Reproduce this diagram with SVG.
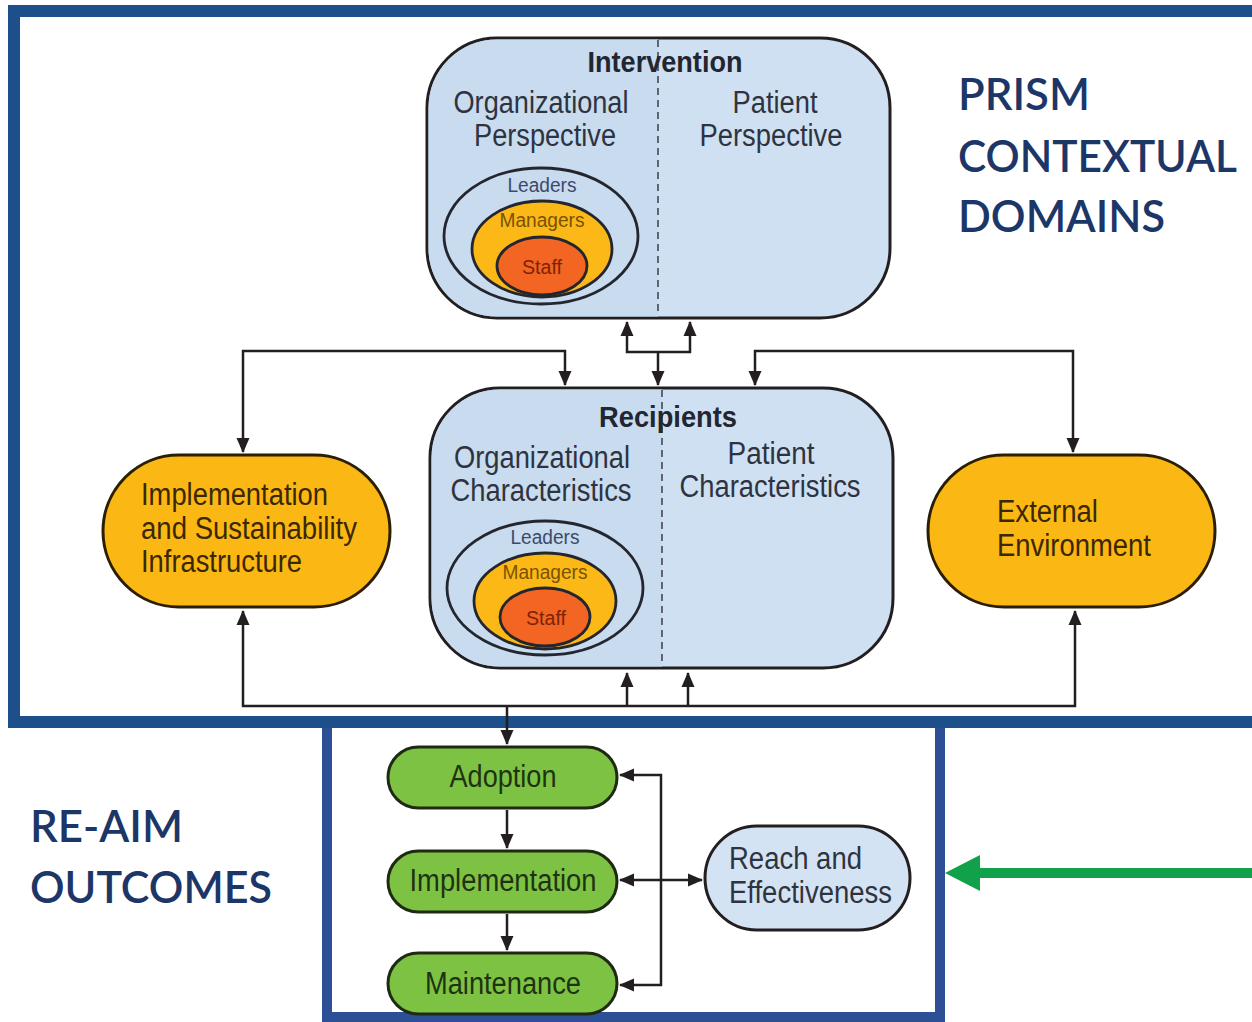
<svg xmlns="http://www.w3.org/2000/svg" width="1252" height="1022" viewBox="0 0 1252 1022">
  <defs>
    <marker id="arrow" markerUnits="userSpaceOnUse" markerWidth="16" markerHeight="16" viewBox="0 0 16 16" refX="14" refY="8" orient="auto-start-reverse">
      <path d="M0,1.5 L15,8 L0,14.5 z" fill="#231f20"/>
    </marker>
    <style>
      .frame { fill: none; stroke: #1d4f8b; stroke-width: 12; }
      .frame2 { fill: none; stroke: #2c4f96; stroke-width: 10; }
      .panel { fill: #cfe0f2; stroke: #231f20; stroke-width: 3; }
      .panel-l { fill: #c8dbef; }
      .divider { stroke: #3a3f4a; stroke-width: 1.5; stroke-dasharray: 7 5; }
      .ring-l { fill: #c8dbef; stroke: #23262f; stroke-width: 2.8; }
      .ring-m { fill: #fbb817; stroke: #23262f; stroke-width: 2.8; }
      .ring-s { fill: #f26522; stroke: #23262f; stroke-width: 2.8; }
      .pill-o { fill: #fbb714; stroke: #2a1e05; stroke-width: 3; }
      .pill-g { fill: #7dc242; stroke: #1e2a12; stroke-width: 3; }
      .pill-b { fill: #d3e3f3; stroke: #231f20; stroke-width: 3; }
      .t { font-family: "Liberation Sans", Arial, sans-serif; font-size: 31px; fill: #2e3340; }
      .tb { font-family: "Liberation Sans", Arial, sans-serif; font-size: 29px; font-weight: bold; fill: #222630; }
      .ts { font-family: "Liberation Sans", Arial, sans-serif; font-size: 20px; }
      .tbrown { fill: #3a2800; }
      .tgreen { fill: #1e3312; }
      .head { font-family: Lato, "Open Sans", sans-serif; font-size: 44px; font-weight: 600; fill: #1c3668; }
      .conn { fill: none; stroke: #231f20; stroke-width: 2.5; }
    </style>
  </defs>

  <rect width="1252" height="1022" fill="#ffffff"/>

  <!-- outer frames -->
  <g id="prism-frame">
    <rect class="frame2" x="327" y="722" width="613" height="295"/>
    <rect class="frame" x="14" y="11" width="1260" height="711"/>
  </g>

  <!-- section headings -->
  <g id="prism-heading">
    <text class="head" x="958" y="110" textLength="132" lengthAdjust="spacingAndGlyphs">PRISM</text>
    <text class="head" x="958" y="172" textLength="279" lengthAdjust="spacingAndGlyphs">CONTEXTUAL</text>
    <text class="head" x="958" y="232" textLength="207" lengthAdjust="spacingAndGlyphs">DOMAINS</text>
  </g>
  <g id="reaim-heading">
    <text class="head" x="30" y="842" textLength="153" lengthAdjust="spacingAndGlyphs">RE-AIM</text>
    <text class="head" x="30" y="903" textLength="242" lengthAdjust="spacingAndGlyphs">OUTCOMES</text>
  </g>

  <!-- Intervention: left half carries a slightly deeper tint -->
  <g id="intervention">
    <rect class="panel" x="427" y="38" width="463" height="280" rx="70" ry="70"/>
    <path class="panel-l" d="M658,39.5 H497 A68.5,68.5 0 0 0 428.5,108 V248 A68.5,68.5 0 0 0 497,316.5 H658 z"/>
    <line class="divider" x1="658" y1="40" x2="658" y2="316"/>
    <text class="tb" x="665" y="72" text-anchor="middle" textLength="155" lengthAdjust="spacingAndGlyphs">Intervention</text>
    <text class="t" x="541" y="113" text-anchor="middle" textLength="175" lengthAdjust="spacingAndGlyphs">Organizational</text>
    <text class="t" x="545" y="146" text-anchor="middle" textLength="142" lengthAdjust="spacingAndGlyphs">Perspective</text>
    <text class="t" x="775" y="113" text-anchor="middle" textLength="85" lengthAdjust="spacingAndGlyphs">Patient</text>
    <text class="t" x="771" y="146" text-anchor="middle" textLength="143" lengthAdjust="spacingAndGlyphs">Perspective</text>
    <ellipse class="ring-l" cx="541" cy="236" rx="97" ry="68"/>
    <ellipse class="ring-m" cx="542" cy="249" rx="70" ry="48"/>
    <ellipse class="ring-s" cx="542" cy="266" rx="45" ry="29"/>
    <text class="ts" x="542" y="192" text-anchor="middle" fill="#3d4a6b" textLength="69" lengthAdjust="spacingAndGlyphs">Leaders</text>
    <text class="ts" x="542" y="227" text-anchor="middle" fill="#7a5200" textLength="85" lengthAdjust="spacingAndGlyphs">Managers</text>
    <text class="ts" x="542" y="274" text-anchor="middle" fill="#7d2308" textLength="40" lengthAdjust="spacingAndGlyphs">Staff</text>
  </g>

  <!-- Recipients -->
  <g id="recipients">
    <rect class="panel" x="430" y="388" width="463" height="280" rx="70" ry="70"/>
    <path class="panel-l" d="M662,389.5 H500 A68.5,68.5 0 0 0 431.5,458 V598 A68.5,68.5 0 0 0 500,666.5 H662 z"/>
    <line class="divider" x1="662" y1="390" x2="662" y2="666"/>
    <text class="tb" x="668" y="427" text-anchor="middle" textLength="138" lengthAdjust="spacingAndGlyphs">Recipients</text>
    <text class="t" x="542" y="468" text-anchor="middle" textLength="176" lengthAdjust="spacingAndGlyphs">Organizational</text>
    <text class="t" x="541" y="501" text-anchor="middle" textLength="181" lengthAdjust="spacingAndGlyphs">Characteristics</text>
    <text class="t" x="771" y="464" text-anchor="middle" textLength="87" lengthAdjust="spacingAndGlyphs">Patient</text>
    <text class="t" x="770" y="497" text-anchor="middle" textLength="181" lengthAdjust="spacingAndGlyphs">Characteristics</text>
    <ellipse class="ring-l" cx="545" cy="588" rx="98" ry="67"/>
    <ellipse class="ring-m" cx="545" cy="601" rx="71" ry="48"/>
    <ellipse class="ring-s" cx="545" cy="617" rx="45" ry="29"/>
    <text class="ts" x="545" y="544" text-anchor="middle" fill="#3d4a6b" textLength="69" lengthAdjust="spacingAndGlyphs">Leaders</text>
    <text class="ts" x="545" y="579" text-anchor="middle" fill="#7a5200" textLength="85" lengthAdjust="spacingAndGlyphs">Managers</text>
    <text class="ts" x="546" y="625" text-anchor="middle" fill="#7d2308" textLength="40" lengthAdjust="spacingAndGlyphs">Staff</text>
  </g>

  <!-- Implementation and Sustainability Infrastructure -->
  <g id="infrastructure">
    <rect class="pill-o" x="103" y="455" width="287" height="152" rx="76" ry="76"/>
    <text class="t tbrown" x="141" y="505" textLength="187" lengthAdjust="spacingAndGlyphs">Implementation</text>
    <text class="t tbrown" x="141" y="539" textLength="216" lengthAdjust="spacingAndGlyphs">and Sustainability</text>
    <text class="t tbrown" x="141" y="572" textLength="161" lengthAdjust="spacingAndGlyphs">Infrastructure</text>
  </g>

  <!-- External Environment -->
  <g id="external-environment">
    <rect class="pill-o" x="928" y="455" width="287" height="152" rx="76" ry="76"/>
    <text class="t tbrown" x="997" y="522" textLength="101" lengthAdjust="spacingAndGlyphs">External</text>
    <text class="t tbrown" x="997" y="556" textLength="154" lengthAdjust="spacingAndGlyphs">Environment</text>
  </g>

  <!-- RE-AIM outcomes -->
  <g id="adoption">
    <rect class="pill-g" x="388" y="747" width="229" height="61" rx="30.5" ry="30.5"/>
    <text class="t tgreen" x="503" y="787" text-anchor="middle" textLength="107" lengthAdjust="spacingAndGlyphs">Adoption</text>
  </g>
  <g id="implementation">
    <rect class="pill-g" x="388" y="851" width="229" height="61" rx="30.5" ry="30.5"/>
    <text class="t tgreen" x="503" y="891" text-anchor="middle" textLength="187" lengthAdjust="spacingAndGlyphs">Implementation</text>
  </g>
  <g id="maintenance">
    <rect class="pill-g" x="388" y="953" width="229" height="61" rx="30.5" ry="30.5"/>
    <text class="t tgreen" x="503" y="994" text-anchor="middle" textLength="156" lengthAdjust="spacingAndGlyphs">Maintenance</text>
  </g>
  <g id="reach-effectiveness">
    <rect class="pill-b" x="705" y="826" width="205" height="104" rx="52" ry="52"/>
    <text class="t" x="729" y="869" textLength="133" lengthAdjust="spacingAndGlyphs">Reach and</text>
    <text class="t" x="729" y="903" textLength="163" lengthAdjust="spacingAndGlyphs">Effectiveness</text>
  </g>

  <!-- connectors -->
  <g id="connectors">
    <path class="conn" d="M627,322 V352 H690 V322" marker-start="url(#arrow)" marker-end="url(#arrow)"/>
    <path class="conn" d="M658,352 V385" marker-end="url(#arrow)"/>
    <path class="conn" d="M565,385 V351 H243 V452" marker-start="url(#arrow)" marker-end="url(#arrow)"/>
    <path class="conn" d="M755,385 V351 H1073 V452" marker-start="url(#arrow)" marker-end="url(#arrow)"/>
    <path class="conn" d="M243,611 V706 H1075 V611" marker-start="url(#arrow)" marker-end="url(#arrow)"/>
    <path class="conn" d="M627,706 V673" marker-end="url(#arrow)"/>
    <path class="conn" d="M688,706 V673" marker-end="url(#arrow)"/>
    <path class="conn" d="M507,706 V744" marker-end="url(#arrow)"/>
    <path class="conn" d="M507,810 V848" marker-end="url(#arrow)"/>
    <path class="conn" d="M507,914 V950" marker-end="url(#arrow)"/>
    <path class="conn" d="M620,775 H661 V985 H620" marker-start="url(#arrow)" marker-end="url(#arrow)"/>
    <path class="conn" d="M620,880 H702" marker-start="url(#arrow)" marker-end="url(#arrow)"/>
    <line x1="1252" y1="873" x2="972" y2="873" stroke="#12a14b" stroke-width="10"/>
    <polygon points="945,873 980,855 980,891" fill="#12a14b"/>
  </g>
</svg>
